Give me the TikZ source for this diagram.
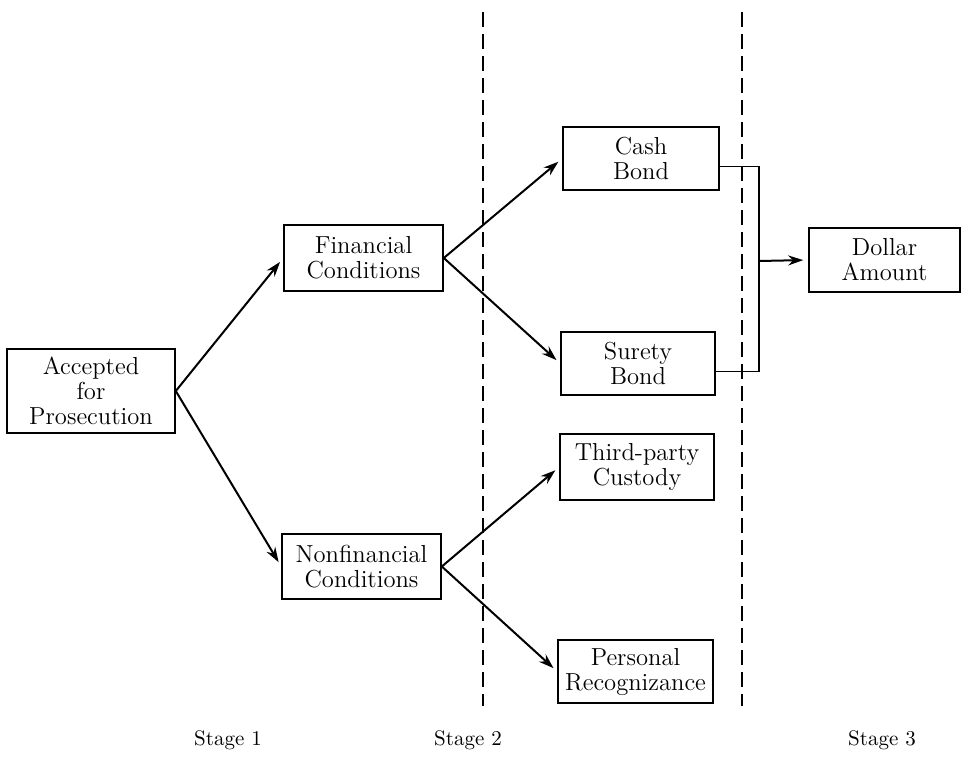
\documentclass[tikz,border=0pt]{standalone}
\usetikzlibrary{arrows.meta}

\begin{document}
\begin{tikzpicture}[x=0.5pt,y=-0.5pt,
    box/.style={draw,line width=0.8pt,align=center,inner sep=0pt,
      font=\fontsize{12.3}{12.5}\selectfont},
    arr/.style={line width=1pt,-{Stealth[length=7.5pt,width=5pt]},shorten >=2.5pt},
    stagedash/.style={line width=1.4pt,dash pattern=on 7.5pt off 3.5pt},
    stage/.style={font=\fontsize{10.5}{12}\selectfont}]
  \useasboundingbox (0,0) rectangle (961,759);
  \node[box,minimum width=84pt,minimum height=42pt] (acc) at (91,391) {Accepted\\for\\Prosecution};
  \node[box,minimum width=79.5pt,minimum height=33pt] (fin) at (363.5,258) {Financial\\Conditions};
  \node[box,minimum width=79.5pt,minimum height=32.5pt] (nonfin) at (361.5,566.5) {Nonfinancial\\Conditions};
  \node[box,minimum width=78pt,minimum height=31.5pt] (cash) at (641,158.5) {Cash\\Bond};
  \node[box,minimum width=77pt,minimum height=31.5pt] (surety) at (638,363.5) {Surety\\Bond};
  \node[box,minimum width=77pt,minimum height=33pt] (third) at (637,467) {Third-party\\Custody};
  \node[box,minimum width=77.5pt,minimum height=31.5pt] (personal) at (635.5,671.5) {Personal\\Recognizance};
  \node[box,minimum width=75.5pt,minimum height=32pt] (dollar) at (884.5,260) {Dollar\\Amount};
  \coordinate (join) at (759,261);
  \draw[arr] (acc.east) -- (fin.west);
  \draw[arr] (acc.east) -- (nonfin.west);
  \draw[arr] (fin.east) -- (cash.west);
  \draw[arr] (fin.east) -- (surety.west);
  \draw[arr] (nonfin.east) -- (third.west);
  \draw[arr] (nonfin.east) -- (personal.west);
  \draw[line width=0.9pt] ([yshift=-4pt]cash.east) -| (join) |- ([yshift=-4pt]surety.east);
  \draw[arr] (join) -- (dollar.west);
  % stage dividers
  \draw[stagedash] (483,12) -- (483,706);
  \draw[stagedash] (742,12) -- (742,706);
  \node[stage] (s1) at (228,740) {Stage 1};
  \node[stage] (s2) at (468,740) {Stage 2};
  \node[stage] (s3) at (882,740) {Stage 3};
\end{tikzpicture}
\end{document}
